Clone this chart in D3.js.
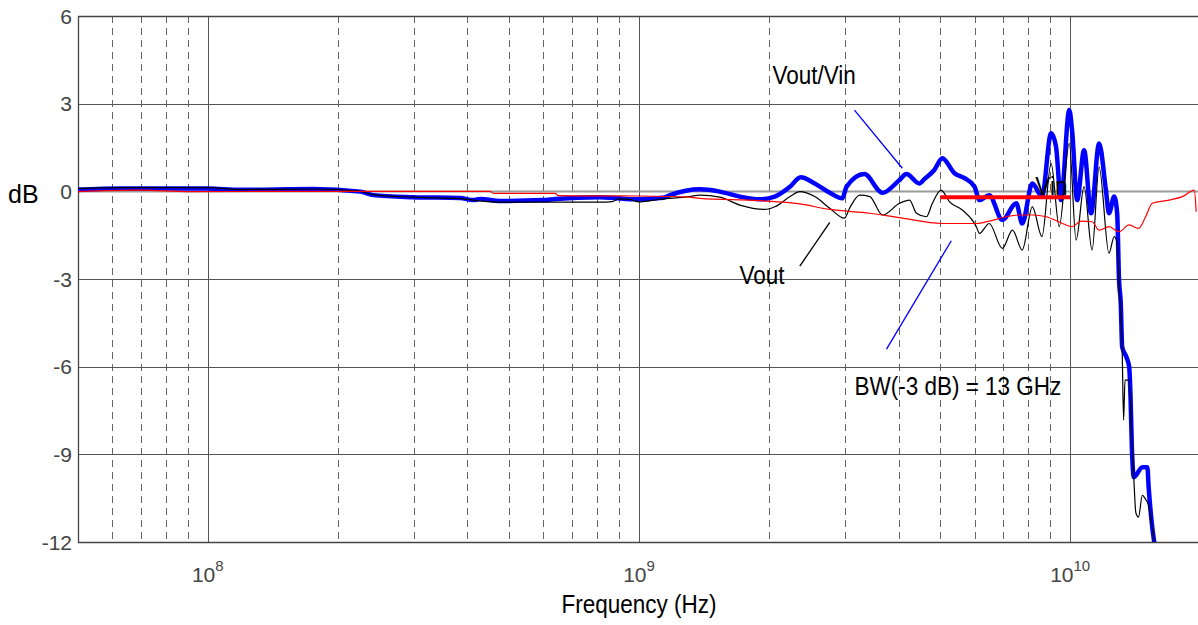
<!DOCTYPE html>
<html><head><meta charset="utf-8">
<script src="https://cdn.jsdelivr.net/npm/d3@7"></script>
<style>
body{margin:0;background:#fff}
svg{display:block}
text{font-family:"Liberation Sans",Arial,Helvetica,sans-serif}
</style>
</head><body>
<svg id="chart" width="1198" height="625"></svg>
<script>
// ---------- data ----------
const xDomainHz = [5e7, 2e10];
const yDomainDb = [-12, 6];
const yTicks = [6, 3, 0, -3, -6, -9, -12];
const xDecades = [1e8, 1e9, 1e10];
const xDecadeExp = ["8", "9", "10"];

// Vout/Vin (blue, thick)
const ratioGHz = [0.05,0.063,0.1,0.119,0.176,0.226,0.242,0.3,0.385,0.413,0.429,0.476,0.6,0.64,0.81,0.88,0.953,1.0,1.137,1.18,1.384,1.54,1.713,1.906,2.065,2.24,2.371,2.556,2.77,2.96,3.03,3.33,3.67,4.02,4.17,4.47,4.59,4.84,5.05,5.39,5.69,6.0,6.16,6.49,6.96,7.5,7.74,8.17,8.6,9.03,9.27,9.52,9.95,10.1,10.38,10.77,11.18,11.67,12.1,12.3,12.65,12.85,12.98,13.1,13.2,13.5,13.7,13.8,13.9,14.05,14.7,15.1,15.2,15.5,15.7];
const ratioDb  = [0.05,0.1,0.1,0.05,0.08,-0.01,-0.13,-0.2,-0.23,-0.3,-0.26,-0.33,-0.3,-0.26,-0.2,-0.23,-0.27,-0.27,-0.22,-0.13,0.07,-0.01,-0.18,-0.27,-0.18,0.16,0.48,0.27,-0.05,-0.24,0.16,0.59,-0.05,0.39,0.59,0.27,0.42,0.73,1.13,0.62,0.45,0.16,-0.3,-0.13,-0.98,-0.41,-1.1,0.27,-0.18,1.99,1.53,-0.3,2.78,2.1,-0.3,1.41,-0.75,1.64,0.04,-0.75,-0.18,-0.75,-3.04,-3.83,-5.33,-5.67,-6.0,-7.0,-8.75,-9.78,-9.44,-9.44,-10.1,-11.5,-12.1];

// Vout (black, thin)
const voutGHz = [0.05,0.063,0.1,0.119,0.176,0.226,0.242,0.3,0.385,0.429,0.476,0.6,0.81,0.866,0.9,0.953,1.0,1.118,1.31,1.384,1.54,1.713,1.957,2.065,2.24,2.36,2.556,2.77,2.996,3.08,3.25,3.43,3.67,4.02,4.24,4.4,4.64,4.79,5.02,5.25,5.62,6.06,6.16,6.49,6.96,7.35,7.74,8.17,8.6,9.03,9.43,9.95,10.32,10.77,11.24,11.67,12.3,12.65,12.85,12.98,13.2,13.3,13.4,13.7,13.9,14.05,14.2,14.4,14.7,14.9,15.2,15.5,15.7];
const voutDb  = [0.1,0.13,0.13,0.06,0.08,0,-0.11,-0.2,-0.25,-0.33,-0.37,-0.37,-0.37,-0.35,-0.26,-0.28,-0.36,-0.27,-0.18,-0.13,-0.2,-0.47,-0.62,-0.53,-0.18,-0.01,-0.18,-0.58,-0.92,-0.57,-0.13,-0.18,-0.81,-0.41,-0.3,-0.75,-0.87,-0.41,0.04,-0.36,-0.64,-1.21,-1.44,-1.1,-1.95,-1.33,-2.01,-0.53,-1.55,0.96,-1.21,1.64,-1.67,0.16,-2.01,0.84,-2.12,-1.55,-1.77,-3.2,-5.45,-7.83,-6.46,-6.46,-8.5,-9.86,-11.0,-11.15,-10.4,-10.5,-10.75,-11.5,-12.1];

// Vin (red, thin)
const vinGHz = [0.05,0.07,0.091,0.164,0.451,0.46,0.64,0.65,1.0,1.31,1.384,1.906,2.36,2.77,3.43,4.02,5.05,6.06,6.49,7.1,7.6,8.17,8.8,9.6,10.1,10.6,11.24,11.67,12.3,12.98,13.7,14.4,14.95,15.5,16.95,18.2,19.4,19.6];
const vinDb  = [-0.01,0.04,-0.01,0,0,-0.07,-0.07,-0.15,-0.16,-0.2,-0.24,-0.32,-0.43,-0.62,-0.75,-0.9,-1.1,-1.1,-1.02,-0.87,-0.81,-0.81,-0.87,-1.1,-1.21,-1.02,-1.04,-1.33,-1.21,-1.38,-1.15,-1.27,-0.88,-0.41,-0.3,-0.18,0.04,-0.7];

// -3 dB reference marker (red, thick)
const markerGHz = [5, 10];
const markerDb = [-0.2, -0.2];

// annotation texts [label, GHz, dB]
const labelText = ["Vout/Vin", "Vout", "BW(-3 dB) = 13 GHz", "Vin"];
const labelGHz  = [2.04, 1.71, 3.16, 8.3];
const labelDb   = [3.69, -3.17, -6.98, -0.13];

// pointer lines [GHz1, dB1, GHz2, dB2]
const pointerGHz1 = [3.16, 2.77, 5.3];
const pointerDb1  = [2.78, -1.06, -1.69];
const pointerGHz2 = [4.08, 2.36, 3.75];
const pointerDb2  = [0.79, -2.56, -5.4];
const pointerColor = ["#0000ff", "#000000", "#0000ff"];

// ---------- chart ----------
const svg = d3.select("#chart");
const x = d3.scaleLog().domain(xDomainHz).range([78, 1200]);
const y = d3.scaleLinear().domain(yDomainDb).range([542, 16]);
const L = 78, R = 1200, T = 16, B = 542;

svg.append("defs").append("clipPath").attr("id", "clip")
  .append("rect").attr("x", L).attr("y", T).attr("width", R - L).attr("height", B - T);

// minor vertical dashed grid
const minor = [];
[1e7, 1e8, 1e9, 1e10].forEach(d => { for (let k = 2; k <= 9; k++) { const v = d * k; if (v > xDomainHz[0] && v < xDomainHz[1]) minor.push(v); } });
const grid = svg.append("g");
grid.selectAll("line.minor").data(minor).join("line")
  .attr("x1", d => Math.round(x(d)) + 0.5).attr("x2", d => Math.round(x(d)) + 0.5)
  .attr("y1", T).attr("y2", B)
  .attr("stroke", "#666").attr("stroke-width", 1).attr("stroke-dasharray", "7,5");
grid.selectAll("line.major").data(xDecades).join("line")
  .attr("x1", d => Math.round(x(d)) + 0.5).attr("x2", d => Math.round(x(d)) + 0.5)
  .attr("y1", T).attr("y2", B)
  .attr("stroke", "#555").attr("stroke-width", 1);
grid.selectAll("line.h").data(yTicks.filter(v => v !== 6 && v !== -12)).join("line")
  .attr("x1", L).attr("x2", R)
  .attr("y1", d => Math.round(y(d)) + 0.5).attr("y2", d => Math.round(y(d)) + 0.5)
  .attr("stroke", d => d === 0 ? "#9a9a9a" : "#555")
  .attr("stroke-width", d => d === 0 ? 2 : 1);

// frame
svg.append("path").attr("d", `M${R},${T + 0.5}H${L + 0.5}V${B + 0.5}H${R}`)
  .attr("fill", "none").attr("stroke", "#444").attr("stroke-width", 1.3);

// y tick labels
svg.append("g").selectAll("text").data(yTicks).join("text")
  .attr("x", 72).attr("y", d => y(d)).attr("dy", "0.36em")
  .attr("text-anchor", "end").attr("font-size", 21).attr("fill", "#444")
  .text(d => d);

// x tick labels with exponent
const xl = svg.append("g").selectAll("text").data(xDecades).join("text")
  .attr("x", d => x(d)).attr("y", 582).attr("text-anchor", "middle")
  .attr("font-size", 21).attr("fill", "#444");
xl.append("tspan").text("10");
xl.append("tspan").attr("dy", -11).attr("font-size", 15).text((d, i) => xDecadeExp[i]);

// axis titles
svg.append("text").attr("transform", `translate(${x(1e9)},613) scale(0.9,1)`)
  .attr("text-anchor", "middle").attr("font-size", 25).attr("fill", "#000").text("Frequency (Hz)");
svg.append("text").attr("x", 8).attr("y", 203).attr("font-size", 25).attr("fill", "#000").text("dB");

// annotation labels (under the curves)
const plot = svg.append("g").attr("clip-path", "url(#clip)");
labelText.forEach((t, i) => {
  svg.append("text")
    .attr("transform", `translate(${x(labelGHz[i] * 1e9)},${y(labelDb[i])}) scale(0.9,1)`)
    .attr("font-size", 25).attr("fill", "#000").text(t);
});

// pointer lines
pointerGHz1.forEach((g, i) => {
  svg.append("line")
    .attr("x1", x(g * 1e9)).attr("y1", y(pointerDb1[i]))
    .attr("x2", x(pointerGHz2[i] * 1e9)).attr("y2", y(pointerDb2[i]))
    .attr("stroke", pointerColor[i]).attr("stroke-width", 1.3);
});

function series(fs, ds) { return fs.map((f, i) => [f * 1e9, ds[i]]); }
const line = d3.line().x(d => x(d[0])).y(d => y(d[1])).curve(d3.curveMonotoneX);

plot.append("path").datum(series(ratioGHz, ratioDb)).attr("d", line)
  .attr("fill", "none").attr("stroke", "#0000ff").attr("stroke-width", 4.5).attr("stroke-linejoin", "round");
plot.append("path").datum(series(voutGHz, voutDb)).attr("d", line)
  .attr("fill", "none").attr("stroke", "#000").attr("stroke-width", 1.2);
plot.append("path").datum(series(vinGHz, vinDb)).attr("d", line)
  .attr("fill", "none").attr("stroke", "#ff0000").attr("stroke-width", 1.2);
plot.append("path").datum(series(markerGHz, markerDb)).attr("d", d3.line().x(d => x(d[0])).y(d => y(d[1])))
  .attr("fill", "none").attr("stroke", "#ff0000").attr("stroke-width", 4);
</script>
</body></html>
